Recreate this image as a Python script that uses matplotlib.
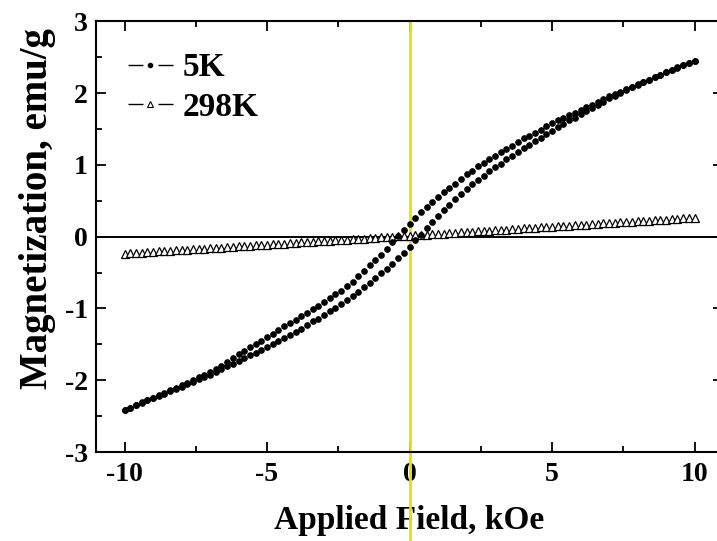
import matplotlib
matplotlib.use('Agg')
import matplotlib.pyplot as plt
from matplotlib.lines import Line2D
from matplotlib.ticker import MultipleLocator

# ---------------- data ----------------
FIELD_KOE = [-10.0, -9.8, -9.6, -9.4, -9.2, -9.0, -8.8, -8.6, -8.4, -8.2,
             -8.0, -7.8, -7.6, -7.4, -7.2, -7.0, -6.8, -6.6, -6.4, -6.2,
             -6.0, -5.8, -5.6, -5.4, -5.2, -5.0, -4.8, -4.6, -4.4, -4.2,
             -4.0, -3.8, -3.6, -3.4, -3.2, -3.0, -2.8, -2.6, -2.4, -2.2,
             -2.0, -1.8, -1.6, -1.4, -1.2, -1.0, -0.8, -0.6, -0.4, -0.2,
             0.0,
             0.2, 0.4, 0.6, 0.8, 1.0, 1.2, 1.4, 1.6, 1.8, 2.0,
             2.2, 2.4, 2.6, 2.8, 3.0, 3.2, 3.4, 3.6, 3.8, 4.0,
             4.2, 4.4, 4.6, 4.8, 5.0, 5.2, 5.4, 5.6, 5.8, 6.0,
             6.2, 6.4, 6.6, 6.8, 7.0, 7.2, 7.4, 7.6, 7.8, 8.0,
             8.2, 8.4, 8.6, 8.8, 9.0, 9.2, 9.4, 9.6, 9.8, 10.0]

# 5K, descending-field branch (upper branch of the loop)
M_5K_DESC = [-2.41, -2.38, -2.35, -2.31, -2.28, -2.25, -2.21, -2.18, -2.14, -2.11,
             -2.07, -2.04, -2.00, -1.96, -1.92, -1.89, -1.84, -1.80, -1.75, -1.69,
             -1.64, -1.59, -1.54, -1.49, -1.45, -1.40, -1.35, -1.30, -1.25, -1.20,
             -1.16, -1.11, -1.06, -1.01, -0.96, -0.91, -0.86, -0.80, -0.75, -0.69,
             -0.63, -0.55, -0.48, -0.40, -0.33, -0.25, -0.17, -0.08, 0.01, 0.09,
             0.18,
             0.26, 0.34, 0.42, 0.49, 0.55, 0.62, 0.68, 0.74, 0.81, 0.87,
             0.92, 0.98, 1.03, 1.08, 1.13, 1.18, 1.22, 1.27, 1.32, 1.37,
             1.41, 1.45, 1.49, 1.54, 1.58, 1.62, 1.66, 1.69, 1.73, 1.77,
             1.81, 1.84, 1.88, 1.92, 1.96, 1.99, 2.02, 2.06, 2.09, 2.13,
             2.16, 2.19, 2.23, 2.26, 2.29, 2.32, 2.36, 2.39, 2.42, 2.45]

# 5K, ascending-field branch (lower branch of the loop)
M_5K_ASC = [-2.41, -2.38, -2.35, -2.32, -2.28, -2.25, -2.22, -2.19, -2.15, -2.12,
            -2.09, -2.05, -2.02, -1.98, -1.95, -1.92, -1.88, -1.84, -1.80, -1.77,
            -1.73, -1.69, -1.65, -1.62, -1.58, -1.54, -1.50, -1.45, -1.41, -1.37,
            -1.33, -1.28, -1.23, -1.18, -1.14, -1.09, -1.04, -0.99, -0.94, -0.88,
            -0.83, -0.77, -0.70, -0.64, -0.58, -0.51, -0.45, -0.38, -0.30, -0.22,
            -0.14,
            -0.05, 0.03, 0.12, 0.21, 0.29, 0.37, 0.44, 0.52, 0.59, 0.67,
            0.73, 0.79, 0.85, 0.91, 0.97, 1.02, 1.08, 1.13, 1.18, 1.24,
            1.28, 1.33, 1.38, 1.43, 1.48, 1.53, 1.57, 1.62, 1.66, 1.71,
            1.75, 1.80, 1.84, 1.88, 1.93, 1.96, 2.00, 2.04, 2.08, 2.11,
            2.15, 2.18, 2.22, 2.25, 2.29, 2.32, 2.35, 2.39, 2.42, 2.45]

# 298K
M_298K = [-0.235, -0.230, -0.225, -0.220, -0.215, -0.210, -0.205, -0.200, -0.195, -0.190,
          -0.185, -0.180, -0.175, -0.170, -0.165, -0.160, -0.155, -0.150, -0.145, -0.140,
          -0.135, -0.130, -0.125, -0.120, -0.115, -0.110, -0.105, -0.100, -0.095, -0.090,
          -0.085, -0.080, -0.075, -0.070, -0.065, -0.060, -0.055, -0.050, -0.045, -0.040,
          -0.035, -0.030, -0.025, -0.020, -0.015, -0.010, -0.005, 0.000, 0.005, 0.010,
          0.015,
          0.020, 0.025, 0.030, 0.035, 0.040, 0.045, 0.050, 0.055, 0.060, 0.065,
          0.070, 0.075, 0.080, 0.085, 0.090, 0.095, 0.100, 0.105, 0.110, 0.115,
          0.120, 0.125, 0.130, 0.135, 0.140, 0.145, 0.150, 0.155, 0.160, 0.165,
          0.170, 0.175, 0.180, 0.185, 0.190, 0.195, 0.200, 0.205, 0.210, 0.215,
          0.220, 0.225, 0.230, 0.235, 0.240, 0.245, 0.250, 0.255, 0.260, 0.265]

SERIES_LABELS = ['5K', '298K']
X_LABEL = 'Applied Field, kOe'
Y_LABEL = 'Magnetization, emu/g'

# ---------------- style ----------------
plt.rcParams['font.family'] = ['Liberation Serif', 'DejaVu Serif']
plt.rcParams['font.weight'] = 'bold'
plt.rcParams['axes.unicode_minus'] = False

fig = plt.figure(figsize=(7.17, 5.41), dpi=100)
fig.patch.set_facecolor('white')
ax = fig.add_axes([0.1339, 0.1645, 0.8745, 0.7958])
ax.set_xlim(-11, 11)
ax.set_ylim(-3, 3)

ax.axhline(0, color='black', lw=1.4, zorder=1.8)
ax.plot([0, 0], [3, -4.8], color='#e2e200', lw=2.0, clip_on=False, zorder=2)

ax.plot(FIELD_KOE, M_298K, linestyle='none', marker='^', ms=6.3, mfc='white',
        mec='black', mew=0.9, zorder=3)
ax.plot(FIELD_KOE, M_5K_DESC, linestyle='none', marker='o', ms=3.8,
        color='black', zorder=4)
ax.plot(FIELD_KOE, M_5K_ASC, linestyle='none', marker='o', ms=3.8,
        color='black', zorder=4)

ax.xaxis.set_major_locator(MultipleLocator(5))
ax.xaxis.set_minor_locator(MultipleLocator(2.5))
ax.yaxis.set_major_locator(MultipleLocator(1))
ax.yaxis.set_minor_locator(MultipleLocator(0.5))
ax.tick_params(which='both', direction='in', top=True, right=True,
               width=1.3, color='black')
ax.tick_params(which='major', length=7.5)
ax.tick_params(which='minor', length=4.5)
ax.tick_params(axis='x', which='major', labelsize=20, pad=7)
ax.tick_params(axis='y', which='major', labelsize=20, pad=6)
for lab in ax.get_xticklabels() + ax.get_yticklabels():
    lab.set_fontweight('bold')
for sp in ax.spines.values():
    sp.set_linewidth(1.5)

ax.set_xlabel(X_LABEL, fontsize=24, fontweight='bold')
ax.xaxis.set_label_coords(0.5, -0.122)
ax.set_ylabel(Y_LABEL, fontsize=28, fontweight='bold', va='center')
ax.yaxis.set_label_coords(-0.094, 0.565)

h1 = Line2D([], [], color='black', lw=1, linestyle=(0, (10.8, 10.8)),
            marker='o', ms=3, mfc='black', mec='black')
h2 = Line2D([], [], color='black', lw=1, linestyle=(0, (10.8, 10.8)),
            marker='^', ms=4.5, mfc='white', mec='black', mew=0.8)
ax.legend([h1, h2], SERIES_LABELS, loc='upper left',
          bbox_to_anchor=(0.051, 0.928), frameon=False,
          prop={'family': 'Liberation Serif', 'weight': 'bold', 'size': 24},
          handlelength=1.35, handletextpad=0.3, borderpad=0,
          borderaxespad=0, labelspacing=0.25, numpoints=1)

fig.savefig('out.png', dpi=100, facecolor='white')
